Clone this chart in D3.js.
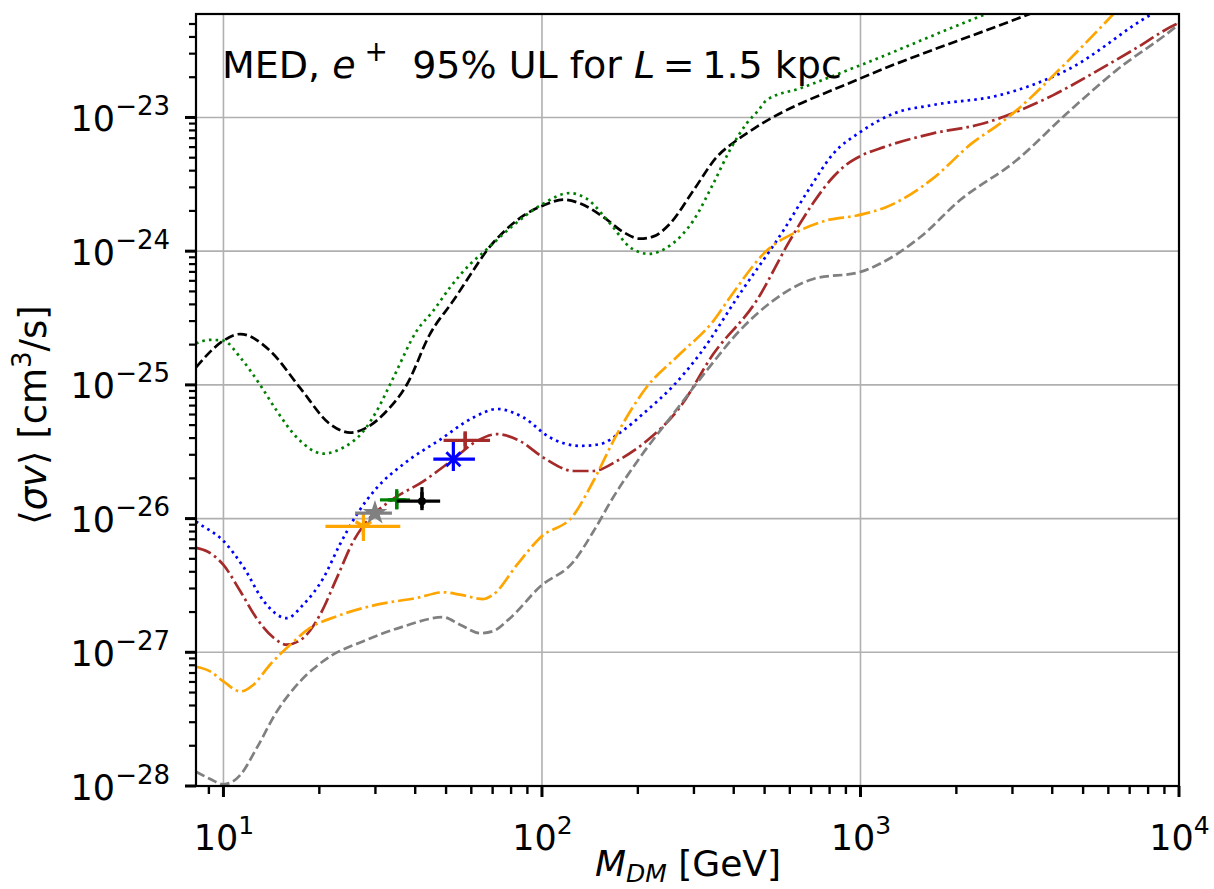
<!DOCTYPE html>
<html>
<head>
<meta charset="utf-8">
<script src="https://cdn.jsdelivr.net/npm/d3@7"></script>
<style>
  html, body { margin: 0; padding: 0; background: #fff; }
  svg { display: block; font-family: "DejaVu Sans", sans-serif; }
</style>
</head>
<body>
<svg id="chart" width="1214" height="889"></svg>
<script>
// ---------------- data ----------------
const blackMass  = [8.2, 10, 11.3, 14.0, 17.4, 21.6, 25.0, 28.2, 32.6, 37.7, 44.5, 52.7, 60.9, 67.1, 77.6, 89.6, 101, 117, 132, 156, 180, 203, 224, 252, 299, 354, 409, 472, 1000, 2740, 10000];
const blackSigma = [1.35e-25, 2.14e-25, 2.4e-25, 1.8e-25, 9.5e-26, 5.1e-26, 4.4e-26, 4.8e-26, 6.4e-26, 1.01e-25, 2.4e-25, 4.27e-25, 7.2e-25, 1.01e-24, 1.47e-24, 1.91e-24, 2.2e-24, 2.43e-24, 2.27e-24, 1.8e-24, 1.39e-24, 1.24e-24, 1.29e-24, 1.6e-24, 2.85e-24, 5.07e-24, 6.76e-24, 8.5e-24, 1.96e-23, 4.9e-23, 1.55e-22];

const greenMass  = [8.2, 9.08, 10, 11.3, 13.0, 14.7, 17.0, 20.6, 23.8, 27.5, 30.3, 34.2, 40.5, 45.6, 51.5, 59.5, 65.5, 81.3, 101, 122, 138, 164, 189, 216, 252, 299, 345, 389, 439, 478, 508, 646, 1000, 2370, 10000];
const greenSigma = [2.04e-25, 2.17e-25, 2.14e-25, 1.6e-25, 1.01e-25, 6.4e-26, 4.04e-26, 3.06e-26, 3.4e-26, 4.5e-26, 6.4e-26, 1.14e-25, 2.55e-25, 3.59e-25, 5.37e-25, 8.0e-25, 9.8e-25, 1.56e-24, 2.27e-24, 2.72e-24, 2.47e-24, 1.6e-24, 1.07e-24, 9.55e-25, 1.1e-24, 1.7e-24, 3.2e-24, 5.7e-24, 9.0e-24, 1.13e-23, 1.35e-23, 1.65e-23, 2.46e-23, 5.7e-23, 2.0e-22];

const blueMass  = [8.2, 8.45, 10, 11.6, 13.4, 15.8, 17.8, 20.6, 23.2, 26.2, 30.3, 36.7, 47.9, 60.9, 72.2, 87.5, 106, 132, 152, 176, 213, 258, 313, 418, 573, 695, 822, 1000, 1271, 1690, 2740, 4450, 8300, 10000];
const blueSigma = [9.5e-27, 9.06e-27, 6.8e-27, 4.28e-27, 2.4e-27, 1.8e-27, 2.27e-27, 3.6e-27, 6.4e-27, 1.07e-26, 1.7e-26, 2.55e-26, 3.9e-26, 5.7e-26, 6.6e-26, 5.7e-26, 4.04e-26, 3.5e-26, 3.6e-26, 4.4e-26, 6.4e-26, 9.8e-26, 1.7e-25, 4.8e-25, 1.43e-24, 3.0e-24, 5.37e-24, 7.8e-24, 1.07e-23, 1.24e-23, 1.47e-23, 2.26e-23, 6.0e-23, 7.5e-23];

const brownMass  = [8.2, 8.87, 10, 11.3, 12.7, 14.4, 15.8, 17.8, 20.1, 22.7, 25.6, 28.8, 33.3, 42.5, 52.7, 62.4, 72.2, 85.3, 101, 126, 145, 172, 213, 271, 345, 472, 600, 711, 822, 910, 1000, 1183, 1690, 2427, 3160, 4030, 5370, 7180, 9820, 10000];
const brownSigma = [6.04e-27, 5.7e-27, 4.5e-27, 2.86e-27, 1.8e-27, 1.28e-27, 1.14e-27, 1.28e-27, 1.91e-27, 3.6e-27, 6.8e-27, 1.01e-26, 1.35e-26, 1.91e-26, 2.78e-26, 3.8e-26, 4.28e-26, 3.8e-26, 2.86e-26, 2.27e-26, 2.27e-26, 2.7e-26, 3.8e-26, 6.8e-26, 1.7e-25, 4.27e-25, 1.2e-24, 2.3e-24, 3.6e-24, 4.5e-24, 5.15e-24, 6.0e-24, 7.6e-24, 9.0e-24, 1.13e-23, 1.47e-23, 2.14e-23, 3.2e-23, 5.0e-23, 5.1e-23];

const orangeMass  = [8.2, 9.08, 10, 11.3, 12.4, 14.0, 16.2, 18.7, 22.7, 30.3, 40.5, 49.0, 55.3, 65.5, 70.3, 83.4, 98.7, 126, 145, 172, 213, 271, 345, 389, 508, 646, 783, 976, 1207, 1690, 2235, 2740, 3090, 4300, 6210, 7000];
const orangeSigma = [7.8e-28, 7.2e-28, 6.05e-28, 5.1e-28, 5.7e-28, 8.07e-28, 1.14e-27, 1.52e-27, 1.86e-27, 2.27e-27, 2.55e-27, 2.81e-27, 2.7e-27, 2.5e-27, 2.7e-27, 4.5e-27, 7.2e-27, 1.07e-26, 1.91e-26, 4.28e-26, 9.6e-26, 1.7e-25, 3.0e-25, 4.5e-25, 1.01e-24, 1.43e-24, 1.7e-24, 1.85e-24, 2.14e-24, 3.5e-24, 6.4e-24, 9.0e-24, 1.13e-23, 2.4e-23, 5.9e-23, 8.0e-23];

const grayMass  = [8.2, 9.08, 10, 11.3, 12.7, 14.7, 17.4, 21.6, 27.5, 36.7, 49.0, 55.3, 64.0, 70.3, 79.4, 98.7, 126, 145, 167, 203, 258, 329, 418, 532, 711, 1000, 1151, 1538, 2050, 3090, 4440, 6370, 9800, 10000];
const graySigma = [1.28e-28, 1.13e-28, 1.03e-28, 1.21e-28, 1.91e-28, 3.6e-28, 6.05e-28, 9.3e-28, 1.21e-27, 1.56e-27, 1.83e-27, 1.61e-27, 1.39e-27, 1.44e-27, 1.8e-27, 3.1e-27, 4.8e-27, 8.0e-27, 1.43e-26, 2.86e-26, 6.04e-26, 1.28e-25, 2.55e-25, 4.27e-25, 6.2e-25, 7.0e-25, 8.05e-25, 1.27e-24, 2.4e-24, 4.78e-24, 1.07e-23, 2.26e-23, 4.8e-23, 5.0e-23];

// best-fit points with error bars
const pointNames  = ["orange", "gray", "green", "black", "blue", "brown"];
const pointMass   = [27.5, 29.9, 35.0, 42.0, 52.7, 57.4];
const pointSigma  = [8.75e-27, 1.1e-26, 1.38e-26, 1.35e-26, 2.78e-26, 3.85e-26];
const pointMassLo = [20.9, 25.9, 31.0, 35.0, 45.6, 49.1];
const pointMassHi = [35.9, 33.8, 38.5, 47.9, 61.6, 68.7];
const pointSigLo  = [6.8e-27, 1.05e-26, 1.17e-26, 1.2e-26, 2.27e-26, 3.5e-26];
const pointSigHi  = [1.1e-26, 1.15e-26, 1.66e-26, 1.72e-26, 3.81e-26, 4.4e-26];

// tick values
const xMajorTicks = [10, 100, 1000, 10000];
const xTickExp    = ["1", "2", "3", "4"];
const yMajorTicks = [1e-28, 1e-27, 1e-26, 1e-25, 1e-24, 1e-23];
const yTickExp    = ["\u221228", "\u221227", "\u221226", "\u221225", "\u221224", "\u221223"];

// ---------------- styles ----------------
const series = [
  {name: "black",  mass: blackMass,  sigma: blackSigma,  color: "#000000", dash: "9.5,4"},
  {name: "green",  mass: greenMass,  sigma: greenSigma,  color: "#008000", dash: "2.6,4.1"},
  {name: "blue",   mass: blueMass,   sigma: blueSigma,   color: "#0000ff", dash: "2.6,4.1"},
  {name: "brown",  mass: brownMass,  sigma: brownSigma,  color: "#a52a2a", dash: "16,4,2.6,4"},
  {name: "orange", mass: orangeMass, sigma: orangeSigma, color: "#ffa500", dash: "16,4,2.6,4"},
  {name: "gray",   mass: grayMass,   sigma: graySigma,   color: "#808080", dash: "9.5,4"}
];
const colorOf = {orange: "#ffa500", gray: "#808080", green: "#008000", black: "#000000", blue: "#0000ff", brown: "#a52a2a"};

const L = 196, R = 1179, T = 14, B = 786;
const svg = d3.select("#chart");

const x = d3.scaleLog().domain([8.2, 1e4]).range([L, R]);
const y = d3.scaleLog().domain([1e-28, 5.94e-23]).range([B, T]);

// grid
const grid = svg.append("g");
grid.selectAll("line.gx").data(xMajorTicks.filter(v => v < 1e4)).enter().append("line")
  .attr("x1", d => x(d)).attr("x2", d => x(d)).attr("y1", T).attr("y2", B)
  .attr("stroke", "#b0b0b0").attr("stroke-width", 1.6);
grid.selectAll("line.gy").data(yMajorTicks.filter(v => v > 1e-28)).enter().append("line")
  .attr("x1", L).attr("x2", R).attr("y1", d => y(d)).attr("y2", d => y(d))
  .attr("stroke", "#b0b0b0").attr("stroke-width", 1.6);

// clip
svg.append("defs").append("clipPath").attr("id", "clip").append("rect")
  .attr("x", L).attr("y", T).attr("width", R - L).attr("height", B - T);

const line = d3.line().x(d => x(d[0])).y(d => y(d[1])).curve(d3.curveMonotoneX);
const curves = svg.append("g").attr("clip-path", "url(#clip)");
series.forEach(s => {
  const data = s.mass.map((m, i) => [m, s.sigma[i]]);
  curves.append("path").datum(data).attr("d", line)
    .attr("fill", "none").attr("stroke", s.color).attr("stroke-width", 2.7)
    .attr("stroke-dasharray", s.dash);
});

// error bars and markers
const ptsG = svg.append("g").attr("clip-path", "url(#clip)");
pointNames.forEach((n, i) => {
  const c = colorOf[n];
  const cx = x(pointMass[i]), cy = y(pointSigma[i]);
  ptsG.append("line").attr("x1", x(pointMassLo[i])).attr("x2", x(pointMassHi[i]))
    .attr("y1", cy).attr("y2", cy).attr("stroke", c).attr("stroke-width", 3.2);
  ptsG.append("line").attr("x1", cx).attr("x2", cx)
    .attr("y1", y(pointSigLo[i])).attr("y2", y(pointSigHi[i])).attr("stroke", c).attr("stroke-width", 3.2);
  const g = ptsG.append("g").attr("transform", `translate(${cx},${cy})`);
  const r = 9;
  if (n === "orange") {
    [[0, r], [-r * 0.866, -r * 0.5], [r * 0.866, -r * 0.5]].forEach(p =>
      g.append("line").attr("x1", 0).attr("y1", 0).attr("x2", p[0]).attr("y2", p[1])
        .attr("stroke", c).attr("stroke-width", 3.4));
  } else if (n === "gray") {
    g.append("path").attr("d", d3.symbol().type(d3.symbolStar).size(190)()).attr("fill", c);
  } else if (n === "green") {
    g.append("line").attr("x1", -r).attr("x2", r).attr("y1", 0).attr("y2", 0).attr("stroke", c).attr("stroke-width", 3.4);
    g.append("line").attr("x1", 0).attr("x2", 0).attr("y1", -r).attr("y2", r).attr("stroke", c).attr("stroke-width", 3.4);
  } else if (n === "black") {
    g.append("circle").attr("r", 4).attr("fill", c);
    g.append("line").attr("x1", 0).attr("x2", 0).attr("y1", -r).attr("y2", r).attr("stroke", c).attr("stroke-width", 3.4);
  } else if (n === "blue") {
    [[-1, -1], [1, 1], [-1, 1], [1, -1]].forEach(p =>
      g.append("line").attr("x1", 0).attr("y1", 0).attr("x2", p[0] * 7).attr("y2", p[1] * 7)
        .attr("stroke", c).attr("stroke-width", 2.8));
  } else if (n === "brown") {
    g.append("line").attr("x1", 0).attr("x2", 0).attr("y1", -r).attr("y2", r).attr("stroke", c).attr("stroke-width", 3.4);
  }
});

// minor tick values
const xMinor = [];
[1, 10, 100, 1000].forEach(dec => { for (let k = 2; k <= 9; k++) { const v = k * dec; if (v >= 8.2 && v < 1e4 && v !== 10) xMinor.push(v); } });
const yMinor = [];
[1e-28, 1e-27, 1e-26, 1e-25, 1e-24, 1e-23].forEach(dec => { for (let k = 2; k <= 9; k++) { const v = k * dec; if (v <= 5.94e-23) yMinor.push(v); } });

// tick marks (drawn from the scales)
const tk = svg.append("g");
xMinor.forEach(v => tk.append("line").attr("x1", x(v)).attr("x2", x(v)).attr("y1", B).attr("y2", B + 8)
  .attr("stroke", "#000").attr("stroke-width", 2.4));
xMajorTicks.forEach(v => tk.append("line").attr("x1", x(v)).attr("x2", x(v)).attr("y1", B).attr("y2", B + 11)
  .attr("stroke", "#000").attr("stroke-width", 3));
yMinor.forEach(v => tk.append("line").attr("y1", y(v)).attr("y2", y(v)).attr("x1", L).attr("x2", L - 7)
  .attr("stroke", "#000").attr("stroke-width", 2.2));
yMajorTicks.forEach(v => tk.append("line").attr("y1", y(v)).attr("y2", y(v)).attr("x1", L).attr("x2", L - 11)
  .attr("stroke", "#000").attr("stroke-width", 3));

// frame
svg.append("rect").attr("x", L).attr("y", T).attr("width", R - L).attr("height", B - T)
  .attr("fill", "none").attr("stroke", "#000").attr("stroke-width", 2.2);

// x axis labels via d3 axis
const xAxisMajor = d3.axisBottom(x).tickValues(xMajorTicks).tickSize(0).tickFormat(() => "");
const gxM = svg.append("g").attr("transform", `translate(0,${B})`).call(xAxisMajor);
gxM.select(".domain").remove();
gxM.selectAll(".tick line").remove();
gxM.selectAll(".tick text").each(function (d, i) {
  const t = d3.select(this).attr("y", 64).attr("dy", null).attr("font-size", 35)
    .attr("font-family", "DejaVu Sans, sans-serif")
    .attr("fill", "#000").attr("text-anchor", "middle").text(null);
  t.append("tspan").text("10");
  t.append("tspan").attr("dy", -16).attr("font-size", 25).text(xTickExp[i]);
});

// y axis labels via d3 axis
const yAxisMajor = d3.axisLeft(y).tickValues(yMajorTicks).tickSize(0).tickFormat(() => "");
const gyM = svg.append("g").attr("transform", `translate(${L},0)`).call(yAxisMajor);
gyM.select(".domain").remove();
gyM.selectAll(".tick line").remove();
gyM.selectAll(".tick text").each(function (d, i) {
  const t = d3.select(this).attr("x", -26).attr("dy", null).attr("y", 13).attr("font-size", 35)
    .attr("font-family", "DejaVu Sans, sans-serif")
    .attr("fill", "#000").attr("text-anchor", "end").text(null);
  t.append("tspan").text("10");
  t.append("tspan").attr("dy", -16).attr("font-size", 26).text(yTickExp[i]);
});

// axis labels
const xl = svg.append("text").attr("x", 688).attr("y", 876).attr("text-anchor", "middle")
  .attr("font-size", 36).attr("fill", "#000");
xl.append("tspan").attr("font-style", "italic").text("M");
xl.append("tspan").attr("font-style", "italic").attr("font-size", 25).attr("dy", 6).text("DM");
xl.append("tspan").attr("dy", -6).text("\u00a0[GeV]");

const yl = svg.append("text").attr("transform", "translate(46,415) rotate(-90)")
  .attr("text-anchor", "middle").attr("font-size", 37).attr("fill", "#000");
yl.append("tspan").text("\u27e8");
yl.append("tspan").attr("font-style", "italic").text("\u03c3v");
yl.append("tspan").text("\u27e9 [cm");
yl.append("tspan").attr("font-size", 26).attr("dy", -15).text("3");
yl.append("tspan").attr("dy", 15).text("/s]");

// annotation
const ann = svg.append("text").attr("x", 222).attr("y", 78).attr("font-size", 38).attr("fill", "#000");
ann.append("tspan").text("MED, ");
ann.append("tspan").attr("font-style", "italic").text("e");
ann.append("tspan").attr("font-size", 28).attr("dy", -17).text("\u00a0+");
ann.append("tspan").attr("dy", 17).text("\u00a0\u00a095% UL for ");
ann.append("tspan").attr("font-style", "italic").text("L");
ann.append("tspan").text("\u2009=\u20091.5 kpc");
</script>
</body>
</html>
